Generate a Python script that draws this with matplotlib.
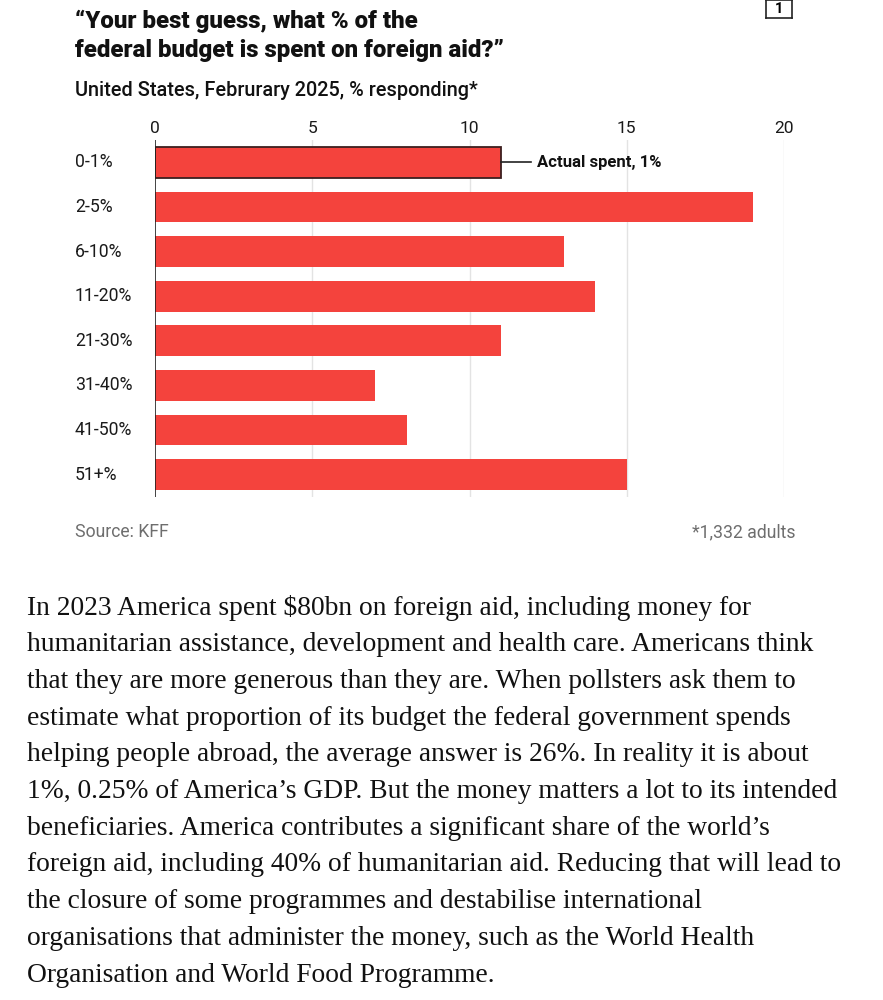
import matplotlib
matplotlib.use("Agg")
import matplotlib.pyplot as plt

categories = ["0-1%", "2-5%", "6-10%", "11-20%", "21-30%", "31-40%", "41-50%", "51+%"]
values = [11, 19, 13, 14, 11, 7, 8, 15]
xticks = [0, 5, 10, 15, 20]

title = "\u201cYour best guess, what % of the\nfederal budget is spent on foreign aid?\u201d"
subtitle = "United States, Februrary 2025, % responding*"
source = "Source: KFF"
note = "*1,332 adults"
annotation = "Actual spent, 1%"
body = [
    "In 2023 America spent $80bn on foreign aid, including money for",
    "humanitarian assistance, development and health care. Americans think",
    "that they are more generous than they are. When pollsters ask them to",
    "estimate what proportion of its budget the federal government spends",
    "helping people abroad, the average answer is 26%. In reality it is about",
    "1%, 0.25% of America\u2019s GDP. But the money matters a lot to its intended",
    "beneficiaries. America contributes a significant share of the world\u2019s",
    "foreign aid, including 40% of humanitarian aid. Reducing that will lead to",
    "the closure of some programmes and destabilise international",
    "organisations that administer the money, such as the World Health",
    "Organisation and World Food Programme.",
]

W, H = 883, 1000
fig = plt.figure(figsize=(W / 100, H / 100), dpi=100)
fig.patch.set_facecolor("white")

def fx(px):
    return px / W

def fy(py):
    return 1 - py / H

sans = ["Roboto", "DejaVu Sans"]

ax = fig.add_axes([fx(155), fy(497), fx(784) - fx(155), fy(140) - fy(497)])
ypos = list(range(len(categories)))
red = "#f4433d"
bars = ax.barh(ypos, values, height=0.69, color=red, zorder=3)
bars[0].set_edgecolor("#3b1f1f")
bars[0].set_linewidth(1.3)
ax.set_xlim(0, 20)
ax.set_ylim(len(categories) - 0.5, -0.5)
ax.set_xticks(xticks)
ax.set_xticklabels([str(t) for t in xticks], fontsize=12.5, family=sans, color="#1a1a1a")
ax.xaxis.tick_top()
ax.tick_params(axis="x", length=0, pad=3)
ax.set_yticks([])
for t in xticks[1:]:
    ax.axvline(t, color="#e3e3e3", lw=1, zorder=1)
ax.axvline(0, color="#222222", lw=1.2, zorder=4)
for s in ax.spines.values():
    s.set_visible(False)

for i, c in enumerate(categories):
    y_disp = ax.transData.transform((0, i))[1]
    y_fig = fig.transFigure.inverted().transform((0, y_disp))[1]
    fig.text(fx(75), y_fig, c, ha="left", va="center", fontsize=12.7, family=sans, color="#1a1a1a")

# annotation
ax.plot([values[0], values[0] + 0.95], [0, 0], color="#222222", lw=1.2, zorder=5, clip_on=False)
ax.text(values[0] + 1.15, 0, annotation, va="center", ha="left", fontsize=12, fontweight="bold",
        family=sans, color="#111111", clip_on=False)

fig.text(fx(75), fy(36), title, ha="left", va="center", fontsize=17.3, fontweight=900,
         family=sans, color="#111111", linespacing=1.3)
fig.text(fx(75), fy(91), subtitle, ha="left", va="center", fontsize=14.3, fontweight="medium",
         family=sans, color="#111111")
fig.text(fx(75), fy(532), source, ha="left", va="center", fontsize=12.7, family=sans, color="#6e6e6e")
fig.text(fx(795), fy(532), note, ha="right", va="center", fontsize=12.7, family=sans, color="#6e6e6e")

# box "1"
box_ax = fig.add_axes([fx(766), fy(18), fx(792) - fx(766), fy(0) - fy(18)])
box_ax.set_xticks([]); box_ax.set_yticks([])
for s in box_ax.spines.values():
    s.set_color("#222222"); s.set_linewidth(1.2)
box_ax.text(0.5, 0.5, "1", ha="center", va="center", fontsize=10.5, fontweight="bold",
            family=sans, transform=box_ax.transAxes)

y0 = 608
dy = 36.7
for i, line in enumerate(body):
    fig.text(fx(27), fy(y0 + i * dy), line, ha="left", va="center", fontsize=19.8,
             family=["Liberation Serif", "DejaVu Serif"], color="#111111")

fig.savefig("out.png", dpi=100, facecolor="white")
